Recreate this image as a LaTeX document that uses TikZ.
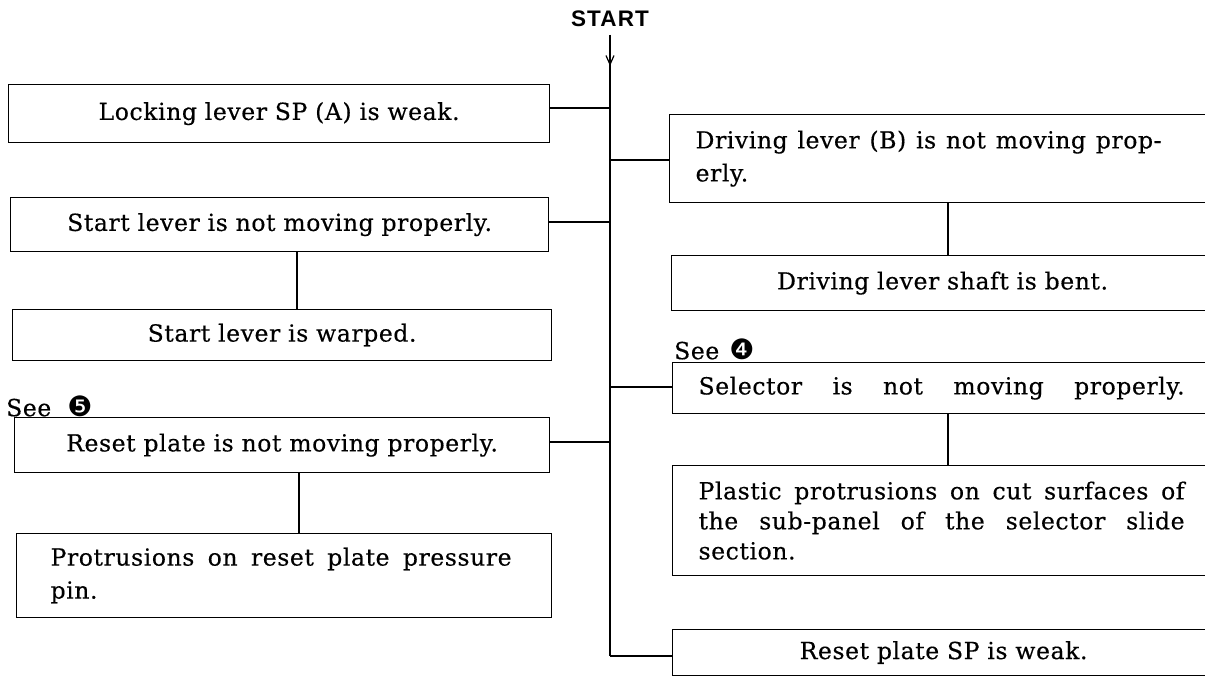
\documentclass[tikz,border=0pt]{standalone}
\usepackage{fontspec}
\setmainfont{DejaVu Serif}[LetterSpace=2.5,FakeBold=0.4]
\newfontfamily\startfont{Liberation Sans}[LetterSpace=5.0]
\newfontfamily\dingfont{DejaVu Sans}
\usetikzlibrary{arrows.meta}
\newcommand{\fs}{\fontsize{23.5}{33}\selectfont}
\newcommand{\jline}[2]{\makebox[#1][s]{\spaceskip=0pt\xspaceskip=0pt #2}}
\newcommand{\dnum}[1]{{\dingfont\fontsize{28}{28}\selectfont #1}}
\begin{document}
\begin{tikzpicture}[x=1pt,y=-1pt,
  box/.style={draw,line width=1.2pt,inner ysep=0pt,anchor=north west,font=\fs},
  lbox/.style={box,inner xsep=34pt},
  rbox/.style={box,inner xsep=26pt,text width=490pt},
  link/.style={line width=1.2pt},
  lbl/.style={anchor=west,inner sep=0pt,font=\fs}]
\useasboundingbox (0,0) rectangle (1205,679);
\clip (0,0) rectangle (1205,679);
% start
\node[font=\startfont\bfseries\fontsize{22.5}{22.5}\selectfont,inner sep=0pt] (start) at (610,19) {START};
\coordinate (ttop) at (610,35);
\coordinate (tarrow) at (610,66);
\coordinate (tbot) at (610,656);
\draw[link] (ttop) -- (tbot);
\draw[link,-{Straight Barb[length=9pt,width=8pt]}] (ttop) -- (tarrow);
% left column
\node[lbox,text width=473pt,minimum height=58pt,align=center] (b1) at (8,84) {Locking lever SP (A) is weak.};
\node[lbox,text width=470pt,minimum height=54pt,align=center] (b2) at (10,197) {Start lever is not moving properly.};
\node[lbox,text width=471pt,minimum height=51pt,align=center] (b3) at (12,309) {Start lever is warped.};
\node[lbl] (see5) at (6,406) {See\hspace{16pt}\dnum{❺}};
\node[lbox,text width=467pt,minimum height=55pt,align=center] (b5) at (14,417) {Reset plate is not moving properly.};
\node[lbox,text width=467pt,minimum height=84pt,align=left] (b6) at (16,533)
  {\jline{461pt}{Protrusions on reset plate pressure}\\pin.};
% right column
\node[rbox,minimum height=88pt,align=left] (b7) at (669,114)
  {\jline{466pt}{Driving lever (B) is not moving prop-}\\erly.};
\node[rbox,minimum height=55pt,align=center] (b8) at (671,255) {Driving lever shaft is bent.};
\node[lbl] (see4) at (674,349) {See\hspace{10pt}\dnum{❹}};
\node[rbox,minimum height=51pt,align=left] (b10) at (672,362)
  {\jline{486pt}{Selector is not moving properly.}};
\node[rbox,minimum height=110pt,align=left] (b11) at (672,465)
  {\jline{486pt}{Plastic protrusions on cut surfaces of}\\[-3pt]
   \jline{486pt}{the sub-panel of the selector slide}\\[-3pt]section.};
\node[rbox,minimum height=46pt,align=center] (b12) at (672,629) {Reset plate SP is weak.};
% junctions on trunk
\coordinate (j1) at (610,108);
\coordinate (j2) at (610,222);
\coordinate (j5) at (610,442);
\coordinate (j7) at (610,160);
\coordinate (j10) at (610,387);
\draw[link] (b1.east |- j1) -- (j1);
\draw[link] (b2.east |- j2) -- (j2);
\draw[link] (b5.east |- j5) -- (j5);
\draw[link] (j7) -- (b7.west |- j7);
\draw[link] (j10) -- (b10.west |- j10);
\draw[link] (tbot) -- (b12.west |- tbot);
% vertical links
\coordinate (v1) at (297,0);
\coordinate (v2) at (299,0);
\coordinate (v3) at (948,0);
\draw[link] (b2.south -| v1) -- (b3.north -| v1);
\draw[link] (b5.south -| v2) -- (b6.north -| v2);
\draw[link] (b7.south -| v3) -- (b8.north -| v3);
\draw[link] (b10.south -| v3) -- (b11.north -| v3);
\end{tikzpicture}
\end{document}
